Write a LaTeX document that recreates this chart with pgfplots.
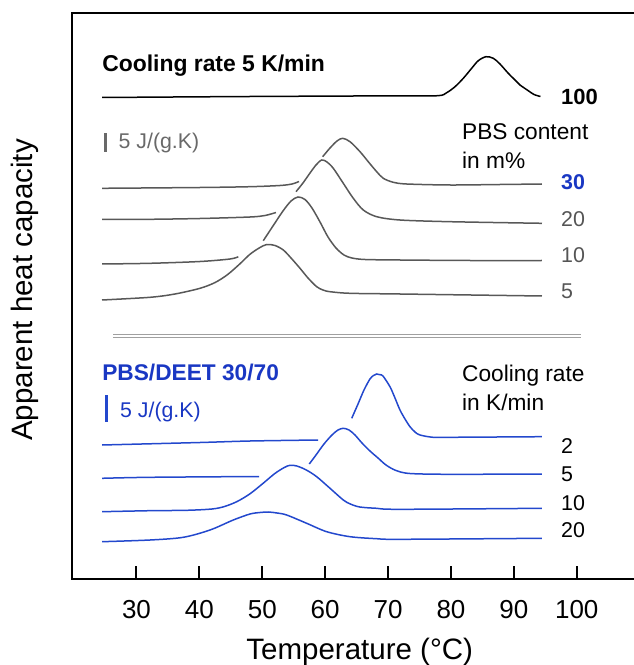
\documentclass[border=0pt]{standalone}
\usepackage{fontspec}
\setmainfont{Liberation Sans}
\usepackage{pgfplots}
\pgfplotsset{compat=1.18}
\definecolor{gc}{RGB}{88,88,88}
\definecolor{gt}{RGB}{85,85,85}
\definecolor{gs}{RGB}{105,105,105}
\definecolor{bc}{RGB}{35,72,205}
\definecolor{bt}{RGB}{25,55,195}
\definecolor{sep}{RGB}{160,160,160}
\newcommand\fs[1]{\fontsize{#1}{#1}\selectfont}
\begin{document}
\begin{tikzpicture}
\begin{axis}[
  scale only axis, width=561.3pt, height=565.7pt,
  xmin=19.7, xmax=108.94, ymin=0, ymax=565.7,
  axis x line*=box, axis y line*=left,
  axis line style={-, line width=2pt, black, line cap=rect},
  ytick=\empty,
  xtick={30,40,...,100},
  xtick pos=bottom,
  tick align=inside,
  major tick length=13pt,
  major tick style={line width=2pt, black},
  /pgf/number format/assume math mode=true,
  xticklabel style={font=\fs{26}, anchor=base, yshift=-39.3pt},
  xlabel={Temperature (°C)},
  xlabel style={font=\fs{29.5}, at={(axis description cs:0.5131,-0.129)}, anchor=center},
  ylabel={Apparent heat capacity},
  ylabel style={font=\fs{29.5}, at={(axis description cs:-0.0832,0.511)}, anchor=center},
  clip=false,
  every axis plot/.append style={line width=1.5pt, smooth, tension=0.5},
]
\coordinate (SW) at (rel axis cs:0,0);
\coordinate (NE) at (rel axis cs:1,1);
% PBS 100
\addplot[black] coordinates {(24.52,481.5)(48.05,482.5)(71.89,483.2)(77.94,483.3)(79.32,486.3)(80.64,492.3)(81.96,500.7)(83.29,510.7)(84.34,518.3)(85.57,522.3)(86.73,520.7)(87.79,515)(89.11,505.7)(90.45,497.3)(90.97,494)(92.24,488.5)(93.2,484.5)(94.23,482.5)};
% 30
\addplot[gc] coordinates {(24.52,390.7)(40.1,391.5)(48.05,392.3)(52.82,393.5)(54.72,395)(55.84,397.5)};
\addplot[gc] coordinates {(59.6,422.3)(60.77,431)(61.88,438)(62.78,440.7)(63.95,437.3)(65.54,427.3)(66.85,417.3)(68.19,407.3)(69.24,400.7)(70.83,396.7)(72.96,395)(79.84,394)(87.79,394.5)(94.47,395)};
% 20
\addplot[gc] coordinates {(24.52,359.5)(32.15,359.7)(40.1,360.5)(48.05,362)(50.43,363.5)(52.18,366.5)};
\addplot[gc] coordinates {(55.36,387.3)(56.47,396)(57.59,406)(58.54,414)(59.45,419)(60.29,417)(61.29,410.7)(62.88,395.7)(64.47,380.7)(66.06,369)(68.19,362.3)(71.89,359)(79.84,357.3)(94.47,355.7)};
% 10
\addplot[gc] coordinates {(24.52,315)(32.15,315.7)(40.1,317.5)(44.87,320)(46.19,322.3)};
\addplot[gc] coordinates {(50.16,338.3)(51.7,353)(53.29,368)(54.57,378)(55.68,382)(56.79,379.5)(57.9,371)(59.18,357)(60.45,342)(61.72,331)(62.99,324)(64.26,321)(66.33,319.5)(71.89,319)(83.02,318.5)(94.47,318.5)};
% 5
\addplot[gc] coordinates {(24.52,279)(32.15,281.7)(36.12,285)(40.1,290.7)(42.5,296.5)(44.5,304.5)(46.5,315.5)(48,324.5)(49.5,331)(50.7,334.5)(52.02,333.5)(53.34,329)(54.57,321)(56,310.7)(57.27,301)(58.65,292.3)(59.65,289)(60.77,287.3)(63.95,285.7)(71.89,285)(94.47,283)};
% separator
\addplot[sep, line width=1.5pt] coordinates {(26.28,244.7)(100.68,244.7)};
\addplot[sep, line width=1.5pt] coordinates {(26.28,241.7)(100.68,241.7)};
% blue 2
\addplot[bc] coordinates {(24.52,134)(40.1,136.5)(48.05,138)(58.86,139)};
\addplot[bc] coordinates {(64.22,160.7)(65.22,175)(66.17,189)(67.12,200)(67.68,203.5)(68.19,205)(68.71,204.3)(69.19,203)(70.3,192.3)(71.1,181)(71.89,169)(72.69,160)(73.48,152.3)(74.28,147)(75.07,144)(77.14,141.7)(79.84,141.7)(94.47,142.3)};
% blue 5
\addplot[bc] coordinates {(24.52,100.7)(32.15,101.7)(49.48,102.5)};
\addplot[bc] coordinates {(57.47,115)(58.54,124)(59.81,135)(61.08,144)(62.04,149)(62.88,150.7)(63.79,149)(64.74,144)(65.85,136)(67.12,128)(68.4,121)(69.67,114)(71.26,108.5)(73.48,105.5)(79.84,104.7)(94.47,105)};
% blue 10
\addplot[bc] coordinates {(24.52,67.3)(32.15,68.3)(38,68.7)(42,70)(44,72.5)(46,77.5)(48,85)(50,95)(52,105.5)(53.5,111.5)(54.41,113.7)(55.5,113)(57,109)(58.65,102.3)(60.77,90.7)(62.88,79)(64,75)(65.5,72)(68.19,70.7)(71.89,69.7)(94.47,70.7)};
% blue 20
\addplot[bc] coordinates {(24.52,37.3)(32.15,39)(37.44,41.7)(41.69,49)(45.39,59)(48.05,65)(49.64,66.5)(50.96,67)(52.34,66)(53.88,64)(57.06,55.7)(60.24,47.3)(63.95,42.3)(68.19,40.3)(71.89,39.7)(94.47,40.7)};
% scale bars
\addplot[gs, line width=3pt] coordinates {(25.1,427)(25.1,446)};
\addplot[bc, line width=3pt] coordinates {(25.22,157.3)(25.22,184)};
% texts
\node[anchor=base west, inner sep=0, font=\fs{22.9}\bfseries] at (axis cs:24.53,507.5) {Cooling rate 5 K/min};
\node[anchor=base west, inner sep=0, font=\fs{22}\bfseries] at (axis cs:97.49,474) {100};
\node[anchor=base west, inner sep=0, font=\fs{22.7}] at (axis cs:81.75,439.4) {PBS content};
\node[anchor=base west, inner sep=0, font=\fs{22.7}] at (axis cs:81.75,410.7) {in m\%};
\node[anchor=base west, inner sep=0, font=\fs{21.4}\bfseries, text=bt] at (axis cs:97.49,389) {30};
\node[anchor=base west, inner sep=0, font=\fs{21.4}, text=gt] at (axis cs:97.49,352.3) {20};
\node[anchor=base west, inner sep=0, font=\fs{21.4}, text=gt] at (axis cs:97.49,316.3) {10};
\node[anchor=base west, inner sep=0, font=\fs{21.4}, text=gt] at (axis cs:97.49,280.7) {5};
\node[anchor=base west, inner sep=0, font=\fs{21.3}, text=gs] at (axis cs:27.14,430) {5 J/(g.K)};
\node[anchor=base west, inner sep=0, font=\fs{22.7}\bfseries, text=bt] at (axis cs:24.53,199) {PBS/DEET 30/70};
\node[anchor=base west, inner sep=0, font=\fs{21.3}, text=bt] at (axis cs:27.38,161) {5 J/(g.K)};
\node[anchor=base west, inner sep=0, font=\fs{22.7}] at (axis cs:81.75,197.3) {Cooling rate};
\node[anchor=base west, inner sep=0, font=\fs{22.7}] at (axis cs:81.75,169) {in K/min};
\node[anchor=base west, inner sep=0, font=\fs{21.4}] at (axis cs:97.49,125.7) {2};
\node[anchor=base west, inner sep=0, font=\fs{21.4}] at (axis cs:97.49,97.3) {5};
\node[anchor=base west, inner sep=0, font=\fs{21.4}] at (axis cs:97.49,69) {10};
\node[anchor=base west, inner sep=0, font=\fs{21.4}] at (axis cs:97.49,41.7) {20};
\end{axis}
\pgfresetboundingbox
\path ([xshift=-71.7pt,yshift=-86pt]SW) rectangle ([yshift=13.3pt]NE);
\end{tikzpicture}
\end{document}
